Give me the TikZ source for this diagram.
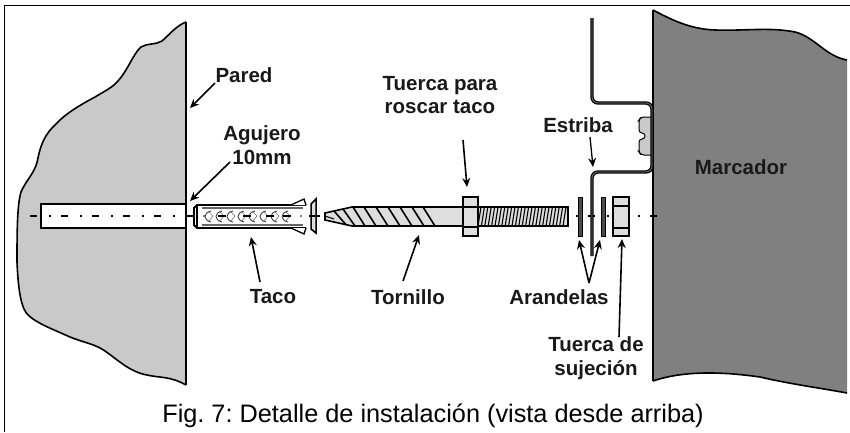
\documentclass[tikz,border=0pt]{standalone}
\usepackage{fontspec}
\setmainfont{Liberation Sans}
\frenchspacing
\usetikzlibrary{arrows.meta}
\definecolor{wallgray}{gray}{0.79}
\definecolor{boardgray}{gray}{0.5}
\definecolor{partgray}{gray}{0.87}
\tikzset{
  lbl/.style={font=\bfseries\fontsize{20.5}{23.5}\selectfont,align=center,inner sep=0pt,text=black!90},
  ptr/.style={line width=1.6pt,-{Stealth[length=9pt,width=8pt]},black},
  outline/.style={line width=1.6pt,black},
  part/.style={line width=1.6pt,black,fill=partgray},
  axis/.style={line width=1.4pt,black,dash pattern=on 7pt off 12pt on 1.5pt off 10.5pt}
}
\begin{document}
\begin{tikzpicture}[x=1pt,y=-1pt]
\useasboundingbox (0,0) rectangle (850,432);
\fill[white] (0,0) rectangle (850,432);
\draw[line width=1.2pt] (4.5,432) -- (4.5,5.5) -- (850,5.5);
% wall
\fill[wallgray] (186,22) .. controls (176,26) and (170,34) .. (162,41)
 .. controls (156,45) and (147,43) .. (141,47) .. controls (133,54) and (128,70) .. (118,81)
 .. controls (112,88) and (103,92) .. (95,97) .. controls (80,105) and (65,114) .. (56,124)
 .. controls (46,133) and (41,143) .. (38,158) .. controls (36,172) and (26,180) .. (21,192)
 .. controls (17,205) and (17,235) .. (17,262) .. controls (18,285) and (20,300) .. (24,309)
 .. controls (28,320) and (50,328) .. (70,337) .. controls (85,343) and (95,344) .. (105,351)
 .. controls (118,360) and (130,372) .. (147,375) .. controls (160,378) and (170,376) .. (186,385) -- cycle;
\draw[outline] (186,22) .. controls (176,26) and (170,34) .. (162,41)
 .. controls (156,45) and (147,43) .. (141,47) .. controls (133,54) and (128,70) .. (118,81)
 .. controls (112,88) and (103,92) .. (95,97) .. controls (80,105) and (65,114) .. (56,124)
 .. controls (46,133) and (41,143) .. (38,158) .. controls (36,172) and (26,180) .. (21,192)
 .. controls (17,205) and (17,235) .. (17,262) .. controls (18,285) and (20,300) .. (24,309)
 .. controls (28,320) and (50,328) .. (70,337) .. controls (85,343) and (95,344) .. (105,351)
 .. controls (118,360) and (130,372) .. (147,375) .. controls (160,378) and (170,376) .. (186,385);
\draw[line width=2.2pt] (186,22) -- (186,385);
\draw[line width=1.6pt,fill=white] (41,204) rectangle (186,228);
\draw[line width=2.2pt] (186,204) -- (186,228);
% board
\fill[boardgray] (653,10) .. controls (672,20) and (690,29) .. (715,30)
 .. controls (745,31) and (770,27) .. (795,32) .. controls (815,37) and (825,56) .. (847,60)
 -- (847,393) .. controls (820,388) and (790,384) .. (760,377) .. controls (725,372) and (685,370) .. (653,381) -- cycle;
\draw[outline] (847,393) .. controls (820,388) and (790,384) .. (760,377) .. controls (725,372) and (685,370) .. (653,381);
\draw[outline] (653,10) .. controls (672,20) and (690,29) .. (715,30)
 .. controls (745,31) and (770,27) .. (795,32) .. controls (815,37) and (825,56) .. (847,60);
\draw[line width=2.4pt] (653,10) -- (653,381);
% axis
\draw[axis] (30,216) -- (668,216);
\draw[line width=1.4pt] (186,216) -- (196,216);
% clip
\draw[line width=1pt,fill=wallgray,rounded corners=3pt] (651,117) -- (641,117) -- (639,120) -- (639,133) -- (645,133)
 -- (645,139) -- (639,139) -- (639,152) -- (641,155) -- (651,155);
% bracket
\foreach \w/\c in {3.4/black,0.8/gray}{
 \draw[line width=\w pt,\c,rounded corners=6pt] (592,18) -- (592,103) -- (652,103) -- (652,172) -- (592,172) -- (592,256);
}
% washers
\draw[line width=1pt,fill=black!70] (578,197) rectangle (582,236);
\draw[line width=1pt,fill=black!70] (601,197) rectangle (605,236);
% mounting nut
\draw[part] (613,197) rectangle (629,236);
\draw[line width=1.3pt] (613,206) -- (629,206) (613,228) -- (629,228);
% anchor
\fill[white] (194,204) rectangle (306,229);
\draw[line width=1.8pt] (306,205) -- (197,205) -- (194,208) -- (194,225) -- (197,228) -- (306,228);
\draw[line width=1.4pt] (197,205) -- (197,228);
\draw[line width=1.3pt,fill=white] (291,205) -- (304,199) -- (306,205);
\draw[line width=1.3pt,fill=white] (291,228) -- (304,234) -- (306,228);
\draw[line width=1.5pt,fill=partgray] (311,204) -- (316,199) -- (316,233) -- (311,229) -- cycle;
\draw[line width=1.1pt,black!60] (202,208) -- (303,208) (202,225) -- (303,225);
\foreach \x in {211,222,233,244,255,266,277,288}{
 \draw[line width=.9pt,black!75] (\x,211) .. controls (\x-8,213) and (\x-8,220) .. (\x,222);
 \draw[line width=.6pt,black!55] (\x-3,211) -- (\x+2,216) -- (\x-3,222);
}
\foreach \x in {222,247,270,287}{\draw[line width=1.3pt] (\x-4,216) -- (\x+4,216);}
\fill (301,216) circle (.9pt);
\fill (204,216) circle (.9pt);
\draw[line width=1.3pt] (309,216) -- (320,216);
% screw
\draw[part] (325,213) -- (352,207) -- (463,207) -- (463,226) -- (352,226) -- (325,220) -- cycle;
\foreach \x in {334,343,353,364,376,388,400,412,423}{
 \pgfmathsetmacro{\ya}{\x<352?(213-(\x-325)*6/27):207}
 \pgfmathsetmacro{\yb}{(\x+12)<352?(220+(\x+12-325)*6/27):226}
 \pgfmathsetmacro{\xb}{\x+12}
 \draw[line width=1.6pt] (\x,\ya) -- (\xb,\yb);
}
\draw[line width=1pt] (325,216) -- (334,219);
\draw[part] (478,207) rectangle (568,226);
\foreach \x in {481,484.4,...,566}{
 \draw[line width=1.1pt] (\x,207) -- (\x-3,226);
}
\draw[part] (463,197) rectangle (478,236);
\draw[line width=1.3pt] (463,207) -- (478,207) (463,227) -- (478,227);
% labels
\node[lbl] (pared) at (244,75) {Pared};
\node[lbl] (agujero) at (262,145) {Agujero\\10mm};
\node[lbl] (tuercar) at (440,95) {Tuerca para\\roscar taco};
\node[lbl] (estriba) at (578,125) {Estriba};
\node[lbl] (taco) at (273,297) {Taco};
\node[lbl] (tornillo) at (408,297) {Tornillo};
\node[lbl] (arandelas) at (559,297) {Arandelas};
\node[lbl] (tuercas) at (596,358) {Tuerca de\\sujeción};
\node[lbl] (marcador) at (741,167) {Marcador};
\node[inner sep=0pt,font=\fontsize{25.3}{28}\selectfont] (caption) at (433,416) {Fig. 7: Detalle de instalación (vista desde arriba)};
% arrows
\coordinate (pa) at (215,83); \coordinate (pb) at (190,108);
\coordinate (aa) at (230,162); \coordinate (ab) at (190,201);
\coordinate (ta) at (260,282); \coordinate (tb) at (251,237);
\coordinate (oa) at (403,281); \coordinate (ob) at (419,235);
\coordinate (ra) at (463,140); \coordinate (rb) at (467,187);
\coordinate (ea) at (590,137); \coordinate (eb) at (593,167);
\coordinate (na) at (589,283); \coordinate (nb) at (579,240); \coordinate (nc) at (600,240);
\coordinate (sa) at (619,337); \coordinate (sb) at (622,239);
\draw[ptr] (pa) -- (pb);
\draw[ptr] (aa) -- (ab);
\draw[ptr] (ta) -- (tb);
\draw[ptr] (oa) -- (ob);
\draw[ptr] (ra) -- (rb);
\draw[ptr,line width=1.3pt] (ea) -- (eb);
\draw[ptr] (na) -- (nb);
\draw[ptr] (na) -- (nc);
\draw[ptr] (sa) -- (sb);
\end{tikzpicture}
\end{document}
